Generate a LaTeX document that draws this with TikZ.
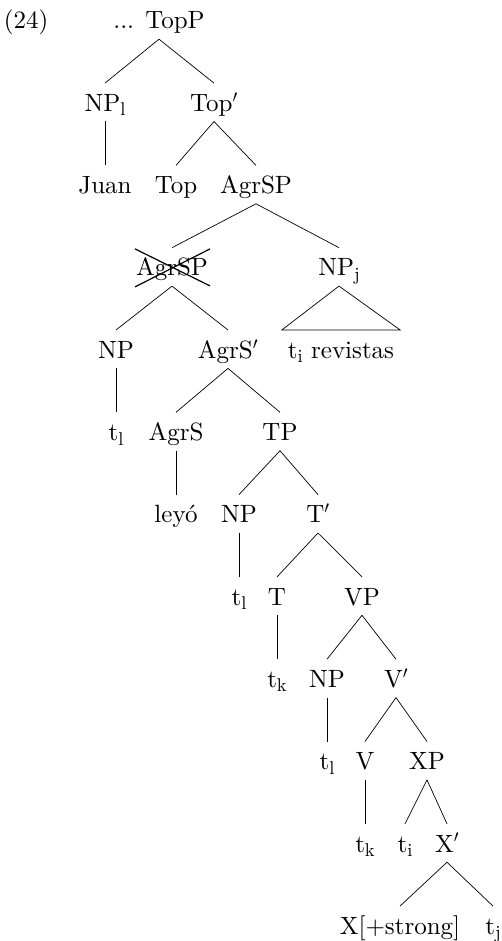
\documentclass[tikz,border=0pt]{standalone}
\usepackage{fontspec}
\setmainfont{lmroman10-regular.otf}
\usetikzlibrary{calc}
\newcommand\lowsub[1]{\raisebox{-4.5pt}{\fontsize{18.5}{18.5}\selectfont #1}}
\begin{document}
\begin{tikzpicture}[x=1pt,y=-1pt,
  tn/.style={inner sep=0pt, text height=28pt, text depth=10pt, anchor=base, font=\fontsize{25}{30}\selectfont},
  edge/.style={line width=0.7pt},
  strike/.style={line width=1.2pt}]
\useasboundingbox (0,0) rectangle (501,941);
% level 0
\node[tn] (ex) at (26,29) {(24)};
\node[tn] (nTopP) at (159,29) {... TopP};
% level 1
\node[tn] (nNPl) at (105,111.3) {NP\lowsub{l}};
\node[tn] (nTopb) at (214,111.3) {Top$'$};
% level 2
\node[tn] (nJuan) at (105,193.6) {Juan};
\node[tn] (nTop) at (176,193.6) {Top};
\node[tn] (nAgrSP) at (256,193.6) {AgrSP};
% level 3
\node[tn] (nAgrSPx) at (172,275.9) {AgrSP};
\node[tn] (nNPj) at (339,275.9) {NP\lowsub{j}};
% level 4
\node[tn] (nNPa) at (116,358.2) {NP};
\node[tn] (nAgrSb) at (228,358.2) {AgrS$'$};
\node[tn, minimum width=118pt] (nRev) at (341,358.2) {t\lowsub{i} revistas};
% level 5
\node[tn] (nTla) at (116,440.5) {t\lowsub{l}};
\node[tn] (nAgrS) at (176,440.5) {AgrS};
\node[tn] (nTP) at (280,440.5) {TP};
% level 6
\node[tn] (nLeyo) at (176,522.8) {leyó};
\node[tn] (nNPb) at (239,522.8) {NP};
\node[tn] (nTb) at (318,522.8) {T$'$};
% level 7
\node[tn] (nTlb) at (239,605.1) {t\lowsub{l}};
\node[tn] (nT) at (277,605.1) {T};
\node[tn] (nVP) at (362,605.1) {VP};
% level 8
\node[tn] (nTka) at (277,687.4) {t\lowsub{k}};
\node[tn] (nNPc) at (327,687.4) {NP};
\node[tn] (nVb) at (396,687.4) {V$'$};
% level 9
\node[tn] (nTlc) at (327,769.7) {t\lowsub{l}};
\node[tn] (nV) at (365,769.7) {V};
\node[tn] (nXP) at (427,769.7) {XP};
% level 10
\node[tn] (nTkb) at (365,852) {t\lowsub{k}};
\node[tn] (nTi) at (405,852) {t\lowsub{i}};
\node[tn] (nXb) at (447,852) {X$'$};
% level 11
\node[tn] (nXs) at (400,934.3) {X[+strong]};
\node[tn] (nTj) at (493,934.3) {t\lowsub{j}};
% edges
\draw[edge] (nTopP.south) -- (nNPl.north);
\draw[edge] (nTopP.south) -- (nTopb.north);
\draw[edge] (nNPl.south) -- (nJuan.north);
\draw[edge] (nTopb.south) -- (nTop.north);
\draw[edge] (nTopb.south) -- (nAgrSP.north);
\draw[edge] (nAgrSP.south) -- (nAgrSPx.north);
\draw[edge] (nAgrSP.south) -- (nNPj.north);
\draw[edge] (nNPj.south) -- (nRev.north west) -- (nRev.north east) -- cycle;
\draw[edge] (nAgrSPx.south) -- (nNPa.north);
\draw[edge] (nAgrSPx.south) -- (nAgrSb.north);
\draw[edge] (nNPa.south) -- (nTla.north);
\draw[edge] (nAgrSb.south) -- (nAgrS.north);
\draw[edge] (nAgrSb.south) -- (nTP.north);
\draw[edge] (nAgrS.south) -- (nLeyo.north);
\draw[edge] (nTP.south) -- (nNPb.north);
\draw[edge] (nTP.south) -- (nTb.north);
\draw[edge] (nNPb.south) -- (nTlb.north);
\draw[edge] (nTb.south) -- (nT.north);
\draw[edge] (nTb.south) -- (nVP.north);
\draw[edge] (nT.south) -- (nTka.north);
\draw[edge] (nVP.south) -- (nNPc.north);
\draw[edge] (nVP.south) -- (nVb.north);
\draw[edge] (nNPc.south) -- (nTlc.north);
\draw[edge] (nVb.south) -- (nV.north);
\draw[edge] (nVb.south) -- (nXP.north);
\draw[edge] (nV.south) -- (nTkb.north);
\draw[edge] (nXP.south) -- (nTi.north);
\draw[edge] (nXP.south) -- (nXb.north);
\draw[edge] (nXb.south) -- (nXs.north);
\draw[edge] (nXb.south) -- (nTj.north);
% strike-through of the moved AgrSP
\draw[strike] ($(nAgrSPx.base)+(-37,-27)$) -- ($(nAgrSPx.base)+(38,10)$);
\draw[strike] ($(nAgrSPx.base)+(-37,11)$) -- ($(nAgrSPx.base)+(38,-27)$);
\end{tikzpicture}
\end{document}
